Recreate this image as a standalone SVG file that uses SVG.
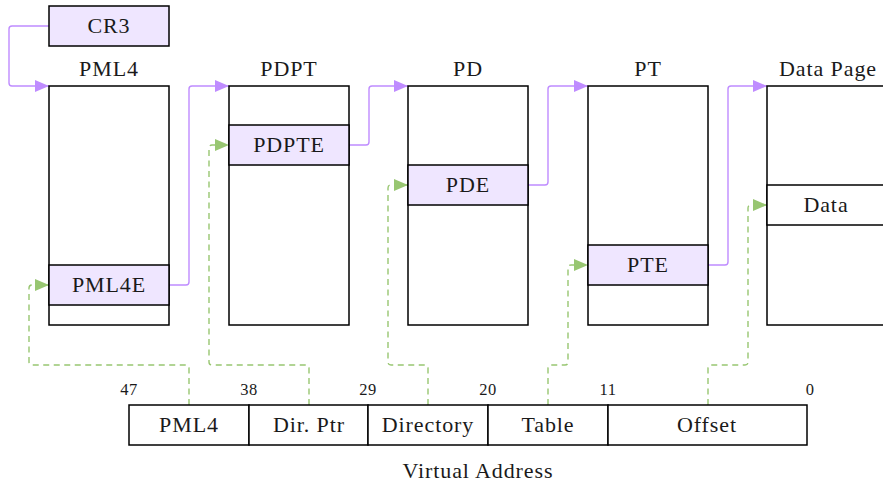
<svg xmlns="http://www.w3.org/2000/svg" width="883" height="484" viewBox="0 0 883 484">
  <style>
    .box { fill: #ffffff; stroke: #000000; stroke-width: 1.5; }
    .entry { fill: #efe6ff; stroke: #000000; stroke-width: 1.5; }
    .plain { fill: #ffffff; stroke: #000000; stroke-width: 1.5; }
    text { fill: #1a1a1a; text-anchor: middle; font-family: "Liberation Serif", "DejaVu Serif", serif; }
    .lbl { font-size: 22px; letter-spacing: 0.9px; }
    .bit { font-size: 16.5px; letter-spacing: 0.5px; }
    .ptr { fill: none; stroke: #bf8cff; stroke-width: 1.4; }
    .idx { fill: none; stroke: #98c671; stroke-width: 1.4; stroke-dasharray: 6 4.5; }
  </style>
  <defs>
    <marker id="ah-ptr" viewBox="0 0 14 12" refX="14" refY="6" markerWidth="14" markerHeight="12" markerUnits="userSpaceOnUse" orient="auto">
      <path d="M0,0 L14,6 L0,12 z" fill="#bf8cff"/>
    </marker>
    <marker id="ah-idx" viewBox="0 0 14 12" refX="14" refY="6" markerWidth="14" markerHeight="12" markerUnits="userSpaceOnUse" orient="auto">
      <path d="M0,0 L14,6 L0,12 z" fill="#98c671"/>
    </marker>
  </defs>

  <!-- connectors -->
  <g id="connectors">
    <!-- table pointers -->
    <path class="ptr" d="M49,26 H12 Q9,26 9,29 V83 Q9,86 12,86 H49" marker-end="url(#ah-ptr)"/>
    <path class="ptr" d="M169,285 H186 Q189,285 189,282 V89 Q189,86 192,86 H229" marker-end="url(#ah-ptr)"/>
    <path class="ptr" d="M349,145 H366 Q369,145 369,142 V89 Q369,86 372,86 H408" marker-end="url(#ah-ptr)"/>
    <path class="ptr" d="M528,185 H545 Q548,185 548,182 V89 Q548,86 551,86 H588" marker-end="url(#ah-ptr)"/>
    <path class="ptr" d="M708,265 H725 Q728,265 728,262 V89 Q728,86 731,86 H767" marker-end="url(#ah-ptr)"/>
    <!-- index fields -->
    <path class="idx" d="M189,405 V368 Q189,365 186,365 H32 Q29,365 29,362 V288 Q29,285 32,285 H49" marker-end="url(#ah-idx)"/>
    <path class="idx" d="M309,405 V368 Q309,365 306,365 H212 Q209,365 209,362 V148 Q209,145 212,145 H229" marker-end="url(#ah-idx)"/>
    <path class="idx" d="M428,405 V368 Q428,365 425,365 H391 Q388,365 388,362 V188 Q388,185 391,185 H408" marker-end="url(#ah-idx)"/>
    <path class="idx" d="M548,405 V368 Q548,365 551,365 H565 Q568,365 568,362 V268 Q568,265 571,265 H588" marker-end="url(#ah-idx)"/>
    <path class="idx" d="M708,405 V368 Q708,365 711,365 H745 Q748,365 748,362 V208 Q748,205 751,205 H767" marker-end="url(#ah-idx)"/>
  </g>

  <g id="cr3">
    <rect class="entry" x="49" y="6" width="120" height="40"/>
    <text class="lbl" x="109" y="33">CR3</text>
  </g>

  <g id="pml4">
    <text class="lbl" x="109" y="76">PML4</text>
    <rect class="box" x="49" y="86" width="120" height="239"/>
    <rect class="entry" x="49" y="265" width="120" height="40"/>
    <text class="lbl" x="109" y="292">PML4E</text>
  </g>

  <g id="pdpt">
    <text class="lbl" x="289" y="76">PDPT</text>
    <rect class="box" x="229" y="86" width="120" height="239"/>
    <rect class="entry" x="229" y="125" width="120" height="40"/>
    <text class="lbl" x="289" y="152">PDPTE</text>
  </g>

  <g id="pd">
    <text class="lbl" x="468" y="76">PD</text>
    <rect class="box" x="408" y="86" width="120" height="239"/>
    <rect class="entry" x="408" y="165" width="120" height="40"/>
    <text class="lbl" x="468" y="192">PDE</text>
  </g>

  <g id="pt">
    <text class="lbl" x="648" y="76">PT</text>
    <rect class="box" x="588" y="86" width="120" height="239"/>
    <rect class="entry" x="588" y="245" width="120" height="40"/>
    <text class="lbl" x="648" y="272">PTE</text>
  </g>

  <g id="data-page">
    <text class="lbl" x="828" y="76">Data Page</text>
    <rect class="box" x="767" y="86" width="120" height="239"/>
    <rect class="plain" x="767" y="185" width="120" height="40"/>
    <text class="lbl" x="826" y="212">Data</text>
  </g>

  <g id="virtual-address">
    <rect class="plain" x="129" y="405" width="120" height="40"/>
    <text class="lbl" x="189" y="432">PML4</text>
    <rect class="plain" x="249" y="405" width="119" height="40"/>
    <text class="lbl" x="309" y="432">Dir. Ptr</text>
    <rect class="plain" x="368" y="405" width="120" height="40"/>
    <text class="lbl" x="428" y="432">Directory</text>
    <rect class="plain" x="488" y="405" width="120" height="40"/>
    <text class="lbl" x="548" y="432">Table</text>
    <rect class="plain" x="608" y="405" width="199" height="40"/>
    <text class="lbl" x="707" y="432">Offset</text>
    <text class="bit" x="129" y="395">47</text>
    <text class="bit" x="249" y="395">38</text>
    <text class="bit" x="368" y="395">29</text>
    <text class="bit" x="488" y="395">20</text>
    <text class="bit" x="608" y="395">11</text>
    <text class="bit" x="810" y="395">0</text>
    <text class="lbl" x="478" y="478">Virtual Address</text>
  </g>
</svg>
